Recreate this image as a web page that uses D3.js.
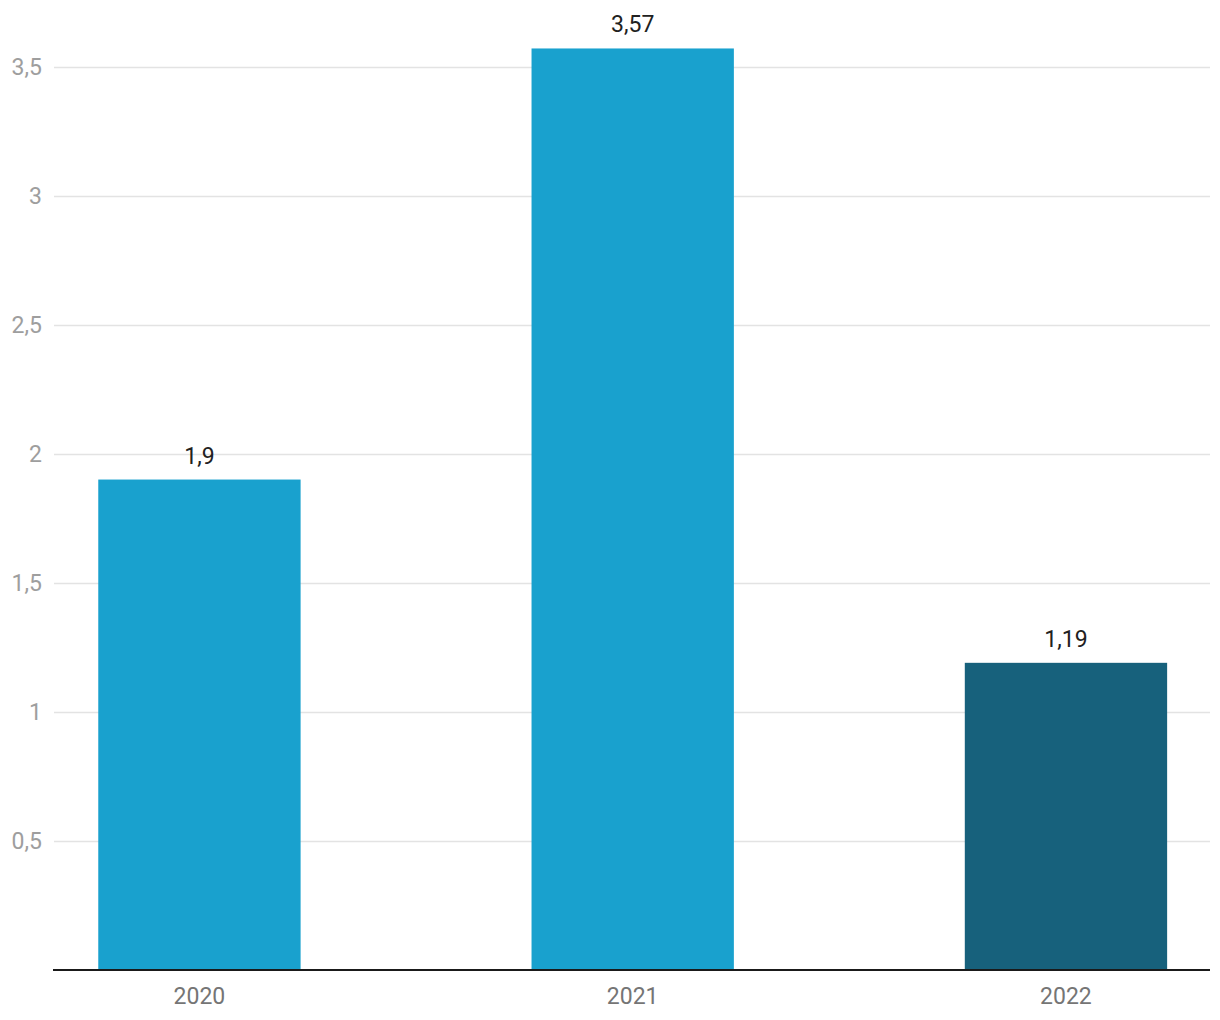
<!DOCTYPE html>
<html>
<head>
<meta charset="utf-8">
<script src="https://cdn.jsdelivr.net/npm/d3@7"></script>
<style>
  html, body { margin: 0; padding: 0; background: #fff; }
  svg { display: block; font-family: Roboto, "Noto Sans", sans-serif; }
</style>
</head>
<body>
<svg id="chart" width="1220" height="1020"></svg>
<script>
const categories = ["2020", "2021", "2022"];
const values = [1.9, 3.57, 1.19];
const barColors = ["#19a1ce", "#19a1ce", "#17617c"];
const yTicks = [0.5, 1, 1.5, 2, 2.5, 3, 3.5];

const fmt = v => String(v).replace(".", ",");

const svg = d3.select("#chart");
const left = 53, right = 1210, baseY = 970, topY = 2;

const x = d3.scaleBand()
  .domain(categories)
  .range([-17.2, 1282.6])
  .paddingInner(0.533)
  .paddingOuter(0.2665);

const y = d3.scaleLinear().domain([0, 3.75]).range([baseY, topY]);

// gridlines
svg.append("g")
  .selectAll("line")
  .data(yTicks)
  .join("line")
  .attr("x1", left + 1)
  .attr("x2", right)
  .attr("y1", d => Math.round(y(d)) + 0.5)
  .attr("y2", d => Math.round(y(d)) + 0.5)
  .attr("stroke", "#e3e3e3")
  .attr("stroke-width", 1.5);

// y axis labels
svg.append("g")
  .selectAll("text")
  .data(yTicks)
  .join("text")
  .attr("x", 42)
  .attr("y", d => y(d))
  .attr("dy", "0.35em")
  .attr("text-anchor", "end")
  .attr("fill", "#9e9e9e")
  .attr("font-size", 23)
  .text(fmt);

// bars
svg.append("g")
  .selectAll("rect")
  .data(values)
  .join("rect")
  .attr("x", (d, i) => x(categories[i]))
  .attr("width", x.bandwidth())
  .attr("y", d => y(d))
  .attr("height", d => baseY - y(d))
  .attr("fill", (d, i) => barColors[i]);

// value labels
svg.append("g")
  .selectAll("text")
  .data(values)
  .join("text")
  .attr("x", (d, i) => x(categories[i]) + x.bandwidth() / 2)
  .attr("y", d => y(d) - 16)
  .attr("text-anchor", "middle")
  .attr("fill", "#212121")
  .attr("font-size", 23)
  .text(fmt);

// x axis line
svg.append("line")
  .attr("x1", left).attr("x2", right)
  .attr("y1", baseY).attr("y2", baseY)
  .attr("stroke", "#1a1a1a")
  .attr("stroke-width", 2);

// x axis labels
svg.append("g")
  .selectAll("text")
  .data(categories)
  .join("text")
  .attr("x", d => x(d) + x.bandwidth() / 2)
  .attr("y", baseY + 34)
  .attr("text-anchor", "middle")
  .attr("fill", "#757575")
  .attr("font-size", 23)
  .text(d => d);
</script>
</body>
</html>
